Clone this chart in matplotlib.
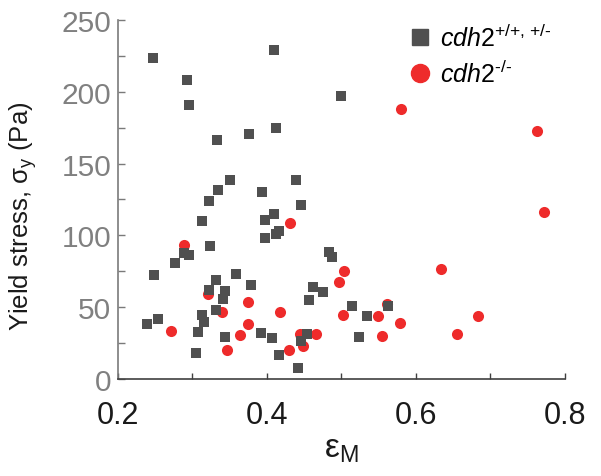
import matplotlib
matplotlib.use("Agg")
import matplotlib.pyplot as plt
from matplotlib.ticker import MultipleLocator, FormatStrFormatter
from matplotlib.lines import Line2D

plt.rcParams['font.family'] = ['Liberation Sans', 'DejaVu Sans']
plt.rcParams['mathtext.fontset'] = 'custom'
plt.rcParams['mathtext.rm'] = 'Liberation Sans'
plt.rcParams['mathtext.it'] = 'Liberation Sans:italic'
plt.rcParams['mathtext.sf'] = 'Liberation Sans'

# cdh2 +/+, +/- (grey squares)
wt_x = [0.247, 0.409, 0.293, 0.295, 0.333, 0.376, 0.4125, 0.351, 0.334, 0.439,
        0.393, 0.322, 0.446, 0.313, 0.398, 0.409, 0.4165, 0.412, 0.397, 0.324,
        0.289, 0.295, 0.277, 0.248, 0.359, 0.331, 0.379, 0.322, 0.344, 0.3405,
        0.331, 0.313, 0.316, 0.239, 0.254, 0.308, 0.3915, 0.344, 0.407, 0.454,
        0.445, 0.305, 0.4165, 0.441, 0.462, 0.457, 0.4836, 0.487, 0.475, 0.514,
        0.563, 0.534, 0.524, 0.499]
wt_y = [223.5, 229.3, 208.4, 190.6, 166.2, 170.4, 174.8, 138.6, 131.8, 138.8,
        130.4, 123.7, 121.4, 110.0, 110.5, 115.1, 103.3, 101.2, 98.0, 92.8,
        87.5, 86.4, 80.5, 72.2, 72.9, 68.9, 65.2, 62.2, 61.3, 55.9,
        48.3, 44.8, 39.5, 38.0, 41.8, 32.5, 32.3, 29.5, 28.6, 31.6,
        26.7, 18.1, 16.7, 7.4, 63.8, 55.2, 88.2, 84.7, 60.6, 50.6,
        50.6, 43.6, 29.5, 197.0]

# cdh2 -/- (red circles)
ko_x = [0.288, 0.321, 0.3396, 0.3745, 0.3745, 0.271, 0.364, 0.346, 0.417, 0.431,
        0.430, 0.444, 0.448, 0.466, 0.504, 0.497, 0.5025, 0.5615, 0.5485, 0.578,
        0.554, 0.580, 0.762, 0.772, 0.6336, 0.683, 0.6545]
ko_y = [93.5, 59.2, 46.7, 53.6, 38.0, 33.4, 30.4, 20.2, 46.7, 108.8,
        20.2, 31.3, 23.0, 31.6, 75.2, 67.8, 44.6, 52.2, 43.6, 39.0,
        30.2, 188.0, 172.5, 116.5, 76.4, 43.9, 31.3]

labels = [r'$\mathit{cdh2}^{\text{+/+, +/-}}$', r'$\mathit{cdh2}^{\text{-/-}}$']
grey = '#505050'
red = '#ee2b2b'

fig = plt.figure(figsize=(6.01, 4.77), dpi=100)
ax = fig.add_axes([0.1963, 0.2034, 0.7438, 0.7526])

ax.scatter(ko_x, ko_y, s=64, marker='o', color=red, linewidths=0, zorder=2)
ax.scatter(wt_x, wt_y, s=50, marker='s', color=grey, linewidths=0, zorder=3)

ax.set_xlim(0.2, 0.8)
ax.set_ylim(0, 250)
ax.xaxis.set_major_locator(MultipleLocator(0.2))
ax.xaxis.set_minor_locator(MultipleLocator(0.1))
ax.xaxis.set_major_formatter(FormatStrFormatter('%.1f'))
ax.yaxis.set_major_locator(MultipleLocator(50))
ax.yaxis.set_minor_locator(MultipleLocator(25))

for s in ['top', 'right']:
    ax.spines[s].set_visible(False)
ax.spines['left'].set_color('#7a7a7a')
ax.spines['bottom'].set_color('#404040')
ax.spines['left'].set_linewidth(1.2)
ax.spines['bottom'].set_linewidth(1.2)

ax.tick_params(axis='x', which='both', direction='in', length=4, width=1, colors='#404040',
               labelcolor='#1a1a1a', labelsize=22, pad=15)
ax.tick_params(axis='y', which='both', direction='in', length=5, width=1, colors='#7a7a7a',
               labelcolor='#808080', labelsize=21.5, pad=5)

ax.set_xlabel(r'$\mathrm{ε}_\mathrm{M}$', fontsize=24, color='#1a1a1a', labelpad=2)
ax.set_ylabel(r'Yield stress, $\mathrm{σ}_\mathrm{y}$ (Pa)', fontsize=18.5, color='#1a1a1a')
ax.yaxis.set_label_coords(-0.176, 0.457)

handles = [Line2D([], [], marker='s', color=grey, linestyle='none', markersize=12),
           Line2D([], [], marker='o', color=red, linestyle='none', markersize=13)]
ax.legend(handles, labels, loc='upper left', bbox_to_anchor=(0.648, 0.99), frameon=False,
          fontsize=18, handlelength=1.0, handletextpad=0.3, labelspacing=0.35,
          borderpad=0, borderaxespad=0)

fig.savefig('out.png', dpi=100)
